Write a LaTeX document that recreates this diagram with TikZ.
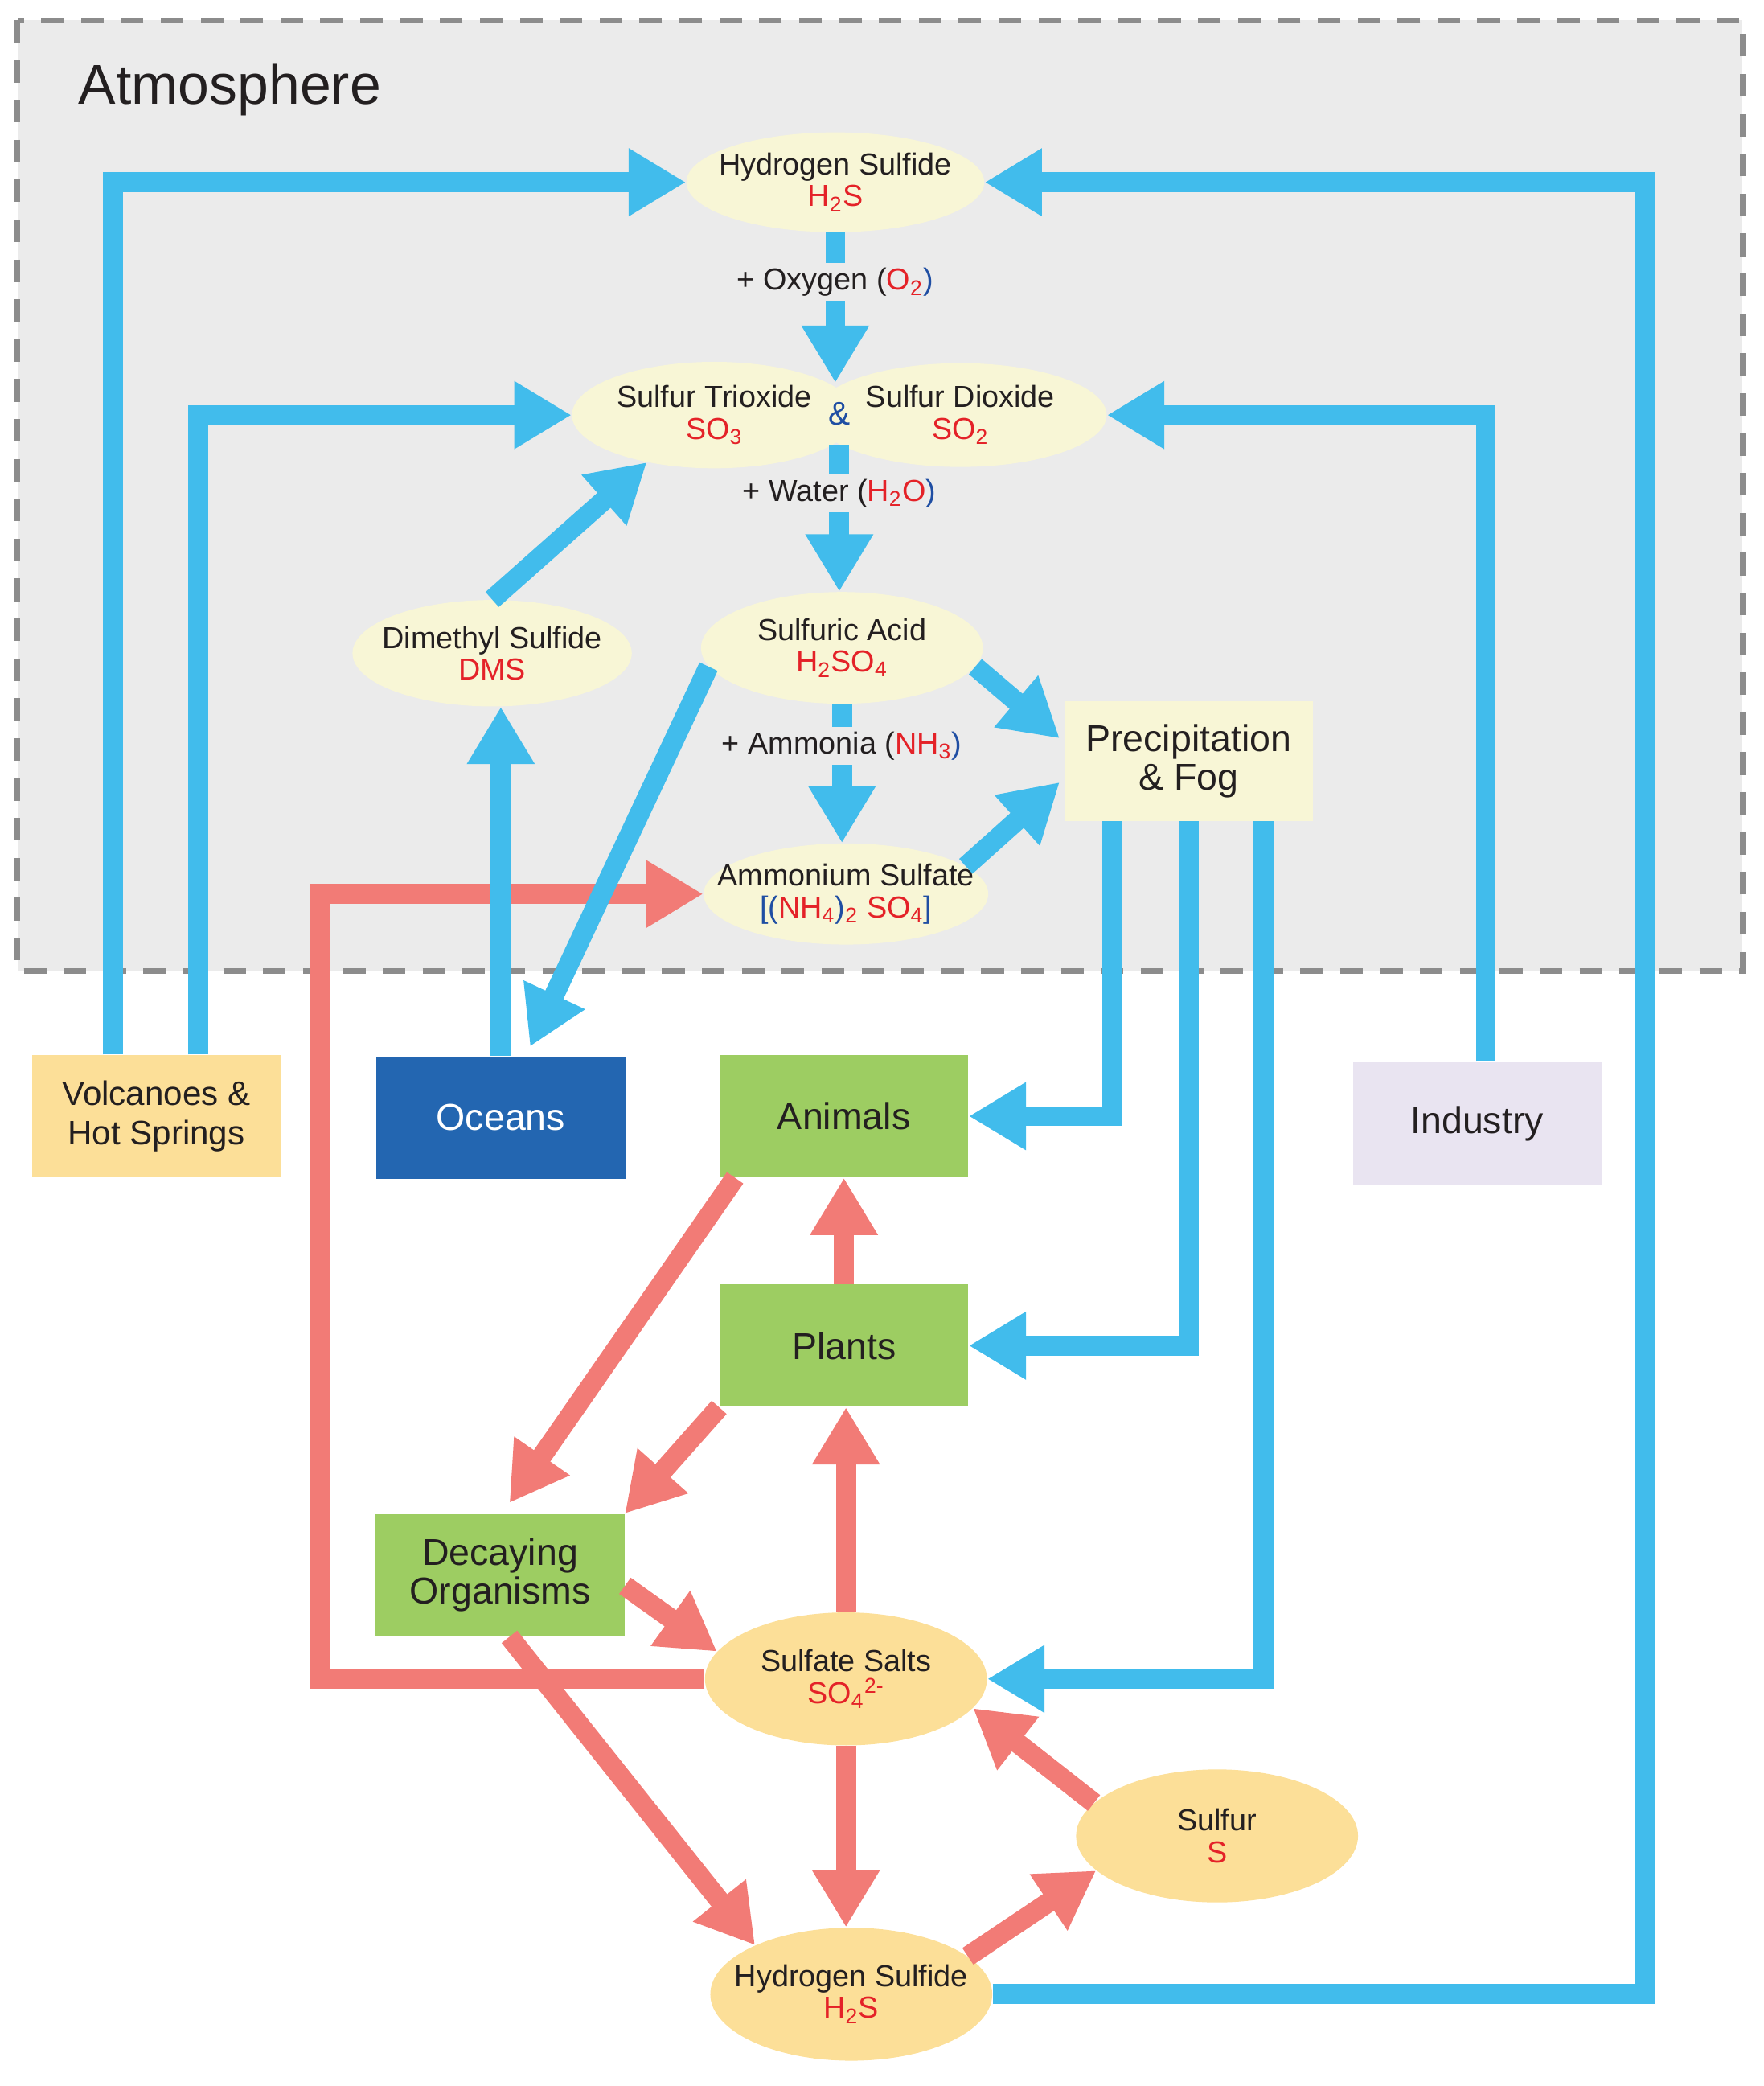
\documentclass[tikz,border=0pt]{standalone}
\usepackage{fontspec}
\setmainfont{Liberation Sans}
\usetikzlibrary{shapes.geometric, positioning, arrows.meta, calc}
\usepackage{xcolor}
\definecolor{atmgray}{HTML}{EBEBEB}
\definecolor{dashgray}{HTML}{8C8C8C}
\definecolor{paleyel}{HTML}{F8F6D6}
\definecolor{sandy}{HTML}{FCDF98}
\definecolor{leaf}{HTML}{9DCD62}
\definecolor{sea}{HTML}{2366B1}
\definecolor{lilac}{HTML}{E9E4F1}
\definecolor{skyarr}{HTML}{41BCEC}
\definecolor{coral}{HTML}{F27B76}
\definecolor{chemred}{HTML}{E42228}
\definecolor{chemblue}{HTML}{1F4EA3}
\definecolor{ink}{HTML}{231F20}
\newcommand{\cred}[1]{\textcolor{chemred}{#1}}
\newcommand{\cblue}[1]{\textcolor{chemblue}{#1}}

\begin{document}
\begin{tikzpicture}[
    x=0.02cm, y=-0.02cm,
    oval/.style={ellipse, fill=paleyel, inner xsep=-0.6cm, inner ysep=-0.1cm,
                 minimum width=4.24cm, minimum height=1.6cm,
                 align=center, text=ink, font=\fontsize{13}{13.5}\selectfont},
    soil/.style={oval, fill=sandy, minimum height=2cm},
    box/.style={rectangle, inner sep=0pt, minimum width=3.74cm, minimum height=1.84cm,
                align=center, text=ink, font=\fontsize{16}{16.5}\selectfont},
    src/.style={box, fill=sandy, font=\fontsize{14.5}{17}\selectfont},
    life/.style={box, fill=leaf},
    cond/.style={fill=atmgray, inner sep=2pt, text=ink, font=\fontsize{13}{13.5}\selectfont},
    skyflow/.style={draw=skyarr, line width=0.3cm, -{Triangle[length=0.86cm, width=0.96cm]}},
    coralflow/.style={draw=coral, line width=0.3cm, -{Triangle[length=0.86cm, width=0.96cm]}}
]
\useasboundingbox (0,0) rectangle (1326,1568);
\draw[dashgray, fill=atmgray, line width=0.08cm, dash pattern=on 0.34cm off 0.26cm] (13,15) rectangle (1310,730);
\node[anchor=base west, text=ink, font=\fontsize{24}{24}\selectfont] (atmo) at (53,78) {Atmosphere};

\node[oval, minimum width=4.48cm, minimum height=1.5cm] (h2stop) at (628,137) {Hydrogen Sulfide\\\cred{H\textsubscript{2}S}};
\node[oval, minimum width=4.28cm] (so3) at (537,312) {Sulfur Trioxide\\\cred{SO\textsubscript{3}}};
\node[oval, minimum width=4.4cm, minimum height=1.56cm] (so2) at (722,312) {Sulfur Dioxide\\\cred{SO\textsubscript{2}}};
\node[inner sep=0pt, minimum size=0.92cm, text=chemblue, font=\fontsize{14}{14}\selectfont] (amp) at (631,311) {\&};
\node[oval, minimum height=1.68cm] (sulf) at (633,487) {Sulfuric Acid\\\cred{H\textsubscript{2}SO\textsubscript{4}}};
\node[oval, minimum width=4.2cm] (dms) at (370,491) {Dimethyl Sulfide\\\cred{DMS}};
\node[oval, minimum width=4.28cm, minimum height=1.52cm] (amm) at (636,672) {Ammonium Sulfate\\\cblue{[(}\cred{NH\textsubscript{4}}\cblue{)}\cred{\textsubscript{2} SO\textsubscript{4}}\cblue{]}};
\node[box, fill=paleyel, minimum height=1.8cm] (prec) at (893.5,572) {Precipitation\\\& Fog};

\node[src] (volc) at (117.5,839) {Volcanoes \&\\Hot Springs};
\node[box, fill=sea, text=white] (ocean) at (376.5,840) {Oceans};
\node[life] (anim) at (634.5,839) {Animals};
\node[box, fill=lilac] (ind) at (1110.5,844.5) {Industry};
\node[life] (plant) at (634.5,1011.5) {Plants};
\node[life] (dec) at (376,1184) {Decaying\\Organisms};

\node[soil] (salts) at (636,1262) {Sulfate Salts\\\cred{SO\textsubscript{4}\textsuperscript{2-}}};
\node[soil] (sulfur) at (915,1380) {Sulfur\\\cred{S}};
\node[soil] (h2sbot) at (640,1499) {Hydrogen Sulfide\\\cred{H\textsubscript{2}S}};

\coordinate (redrail) at (241,0);
\coordinate (rail) at (1237,0);

\draw[coralflow] (salts.west) -- (salts.west -| redrail) |- (amm.west);
\draw[coralflow] (plant.north) -- (anim.south);
\draw[coralflow] ($(anim.south west)+(12,0)$) -- ($(dec.north)+(7,-8)$);
\draw[coralflow] (plant.south west) -- (dec.north east);
\draw[coralflow] ($(dec.east)+(0,8)$) -- (salts.168);
\draw[coralflow] (salts.north) -- (salts.north |- plant.south);
\draw[coralflow] (salts.south) -- (salts.south |- h2sbot.north);
\draw[coralflow] ($(dec.south)+(7,0)$) -- (h2sbot.153);
\draw[coralflow] (h2sbot.18) -- (sulfur.196);
\draw[coralflow] (sulfur.165) -- (salts.-13);

\draw[skyflow] ($(volc.north)+(-32.5,0)$) |- (h2stop.west);
\draw[skyflow] ($(volc.north)+(31.5,0)$) |- (so3.west);
\draw[skyflow] ($(ind.north)+(6.5,0)$) |- (so2.east);
\draw[skyflow] (h2sbot.east) -- (h2sbot.east -| rail) |- (h2stop.east);
\draw[skyflow] (h2stop.south) -- node[cond, pos=0.33] {+ Oxygen (\cred{O\textsubscript{2}}\cblue{)}} (h2stop.south |- amp.north);
\draw[skyflow] (amp.south) -- node[cond, pos=0.33] {+ Water (\cred{H\textsubscript{2}O}\cblue{)}} (amp.south |- sulf.north);
\draw[skyflow] (sulf.south) -- node[cond, pos=0.3] {+ Ammonia (\cred{NH\textsubscript{3}}\cblue{)}} (sulf.south |- amm.north);
\draw[skyflow] (sulf.-8) -- ($(prec.west)+(-3,-17)$);
\draw[skyflow] (amm.13) -- ($(prec.west)+(-3,16)$);
\draw[skyflow] (sulf.188) -- ($(ocean.north)+(22,-7)$);
\draw[skyflow] (ocean.north) -- (ocean.north |- dms.south);
\draw[skyflow] (dms.north) -- (so3.215);
\draw[skyflow] ($(prec.south)+(-57.5,0)$) |- (anim.east);
\draw[skyflow] (prec.south) |- (plant.east);
\draw[skyflow] ($(prec.south)+(56.5,0)$) |- (salts.east);
\end{tikzpicture}
\end{document}
